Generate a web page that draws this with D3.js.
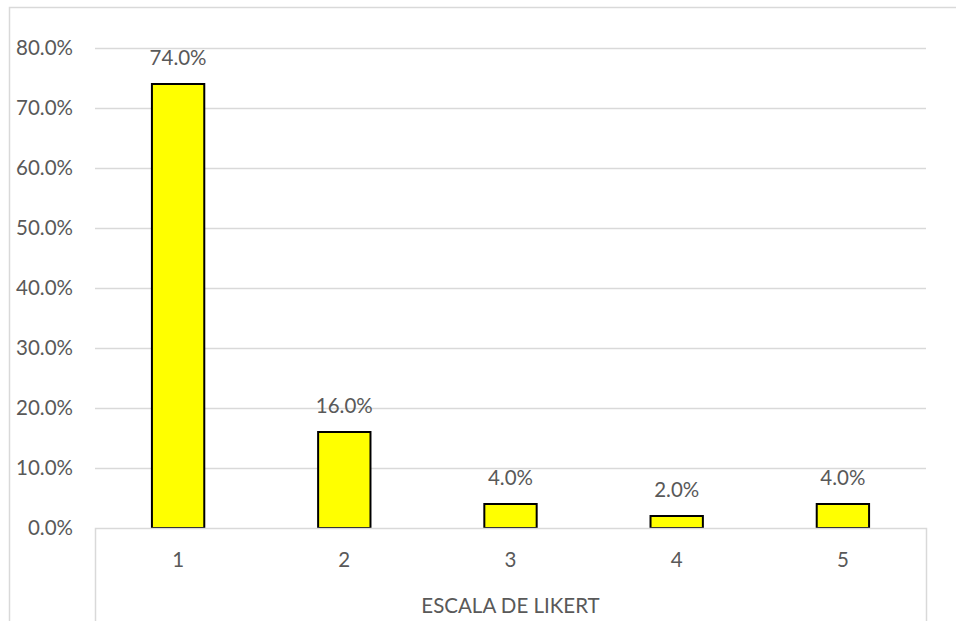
<!DOCTYPE html>
<html>
<head>
<meta charset="utf-8">
<script src="https://cdn.jsdelivr.net/npm/d3@7"></script>
<style>
html,body{margin:0;padding:0;background:#fff;}
svg{display:block;font-family:Lato,"Open Sans",sans-serif;}
</style>
</head>
<body>
<svg id="chart" width="956" height="621"></svg>
<script>
const categories = ["1","2","3","4","5"];
const values = [0.74, 0.16, 0.04, 0.02, 0.04];
const yTicks = [0,0.1,0.2,0.3,0.4,0.5,0.6,0.7,0.8];
const axisTitle = "ESCALA DE LIKERT";

(function(){
const svg = d3.select("#chart");
const pLeft = 95, pRight = 926, pTop = 48, pBottom = 528;
const textColor = "#595959", gridColor = "#d9d9d9";
const fs = 20.5;

// outer chart border
svg.append("rect").attr("x",9.5).attr("y",7.5).attr("width",960).attr("height",640)
  .attr("fill","none").attr("stroke",gridColor).attr("stroke-width",1.5);

const x = d3.scaleBand().domain(categories).range([pLeft,pRight]).paddingInner(0.685).paddingOuter(0.3425);
const y = d3.scaleLinear().domain([0,0.8]).range([pBottom,pTop]);

// gridlines
svg.append("g").selectAll("line").data(yTicks.slice(1)).join("line")
  .attr("x1",pLeft).attr("x2",pRight)
  .attr("y1",d=>Math.round(y(d))+0.5).attr("y2",d=>Math.round(y(d))+0.5)
  .attr("stroke",gridColor).attr("stroke-width",1.5);

// y labels
const fmt = d3.format(".1%");
svg.append("g").selectAll("text").data(yTicks).join("text")
  .attr("x",73).attr("y",d=>y(d)+7)
  .attr("text-anchor","end").attr("fill",textColor).attr("font-size",fs)
  .text(d=>fmt(d));

// bars
svg.append("g").selectAll("rect").data(values).join("rect")
  .attr("x",(d,i)=>x(categories[i])).attr("width",x.bandwidth())
  .attr("y",d=>y(d)).attr("height",d=>pBottom-y(d))
  .attr("fill","#ffff00").attr("stroke","#000").attr("stroke-width",2);

// value labels
svg.append("g").selectAll("text").data(values).join("text")
  .attr("x",(d,i)=>x(categories[i])+x.bandwidth()/2).attr("y",d=>y(d)-19)
  .attr("text-anchor","middle").attr("fill",textColor).attr("font-size",fs)
  .text(d=>fmt(d));

// category axis box
svg.append("path")
  .attr("d",`M${pLeft+0.5},625 V${pBottom+0.5} H${pRight+0.5} V625`)
  .attr("fill","none").attr("stroke",gridColor).attr("stroke-width",1.5);

// category labels
svg.append("g").selectAll("text").data(categories).join("text")
  .attr("x",d=>x(d)+x.bandwidth()/2).attr("y",567)
  .attr("text-anchor","middle").attr("fill",textColor).attr("font-size",fs)
  .text(d=>d);

svg.append("text").attr("x",(pLeft+pRight)/2).attr("y",613)
  .attr("text-anchor","middle").attr("fill",textColor).attr("font-size",fs)
  .text(axisTitle);
})();
</script>
</body>
</html>
